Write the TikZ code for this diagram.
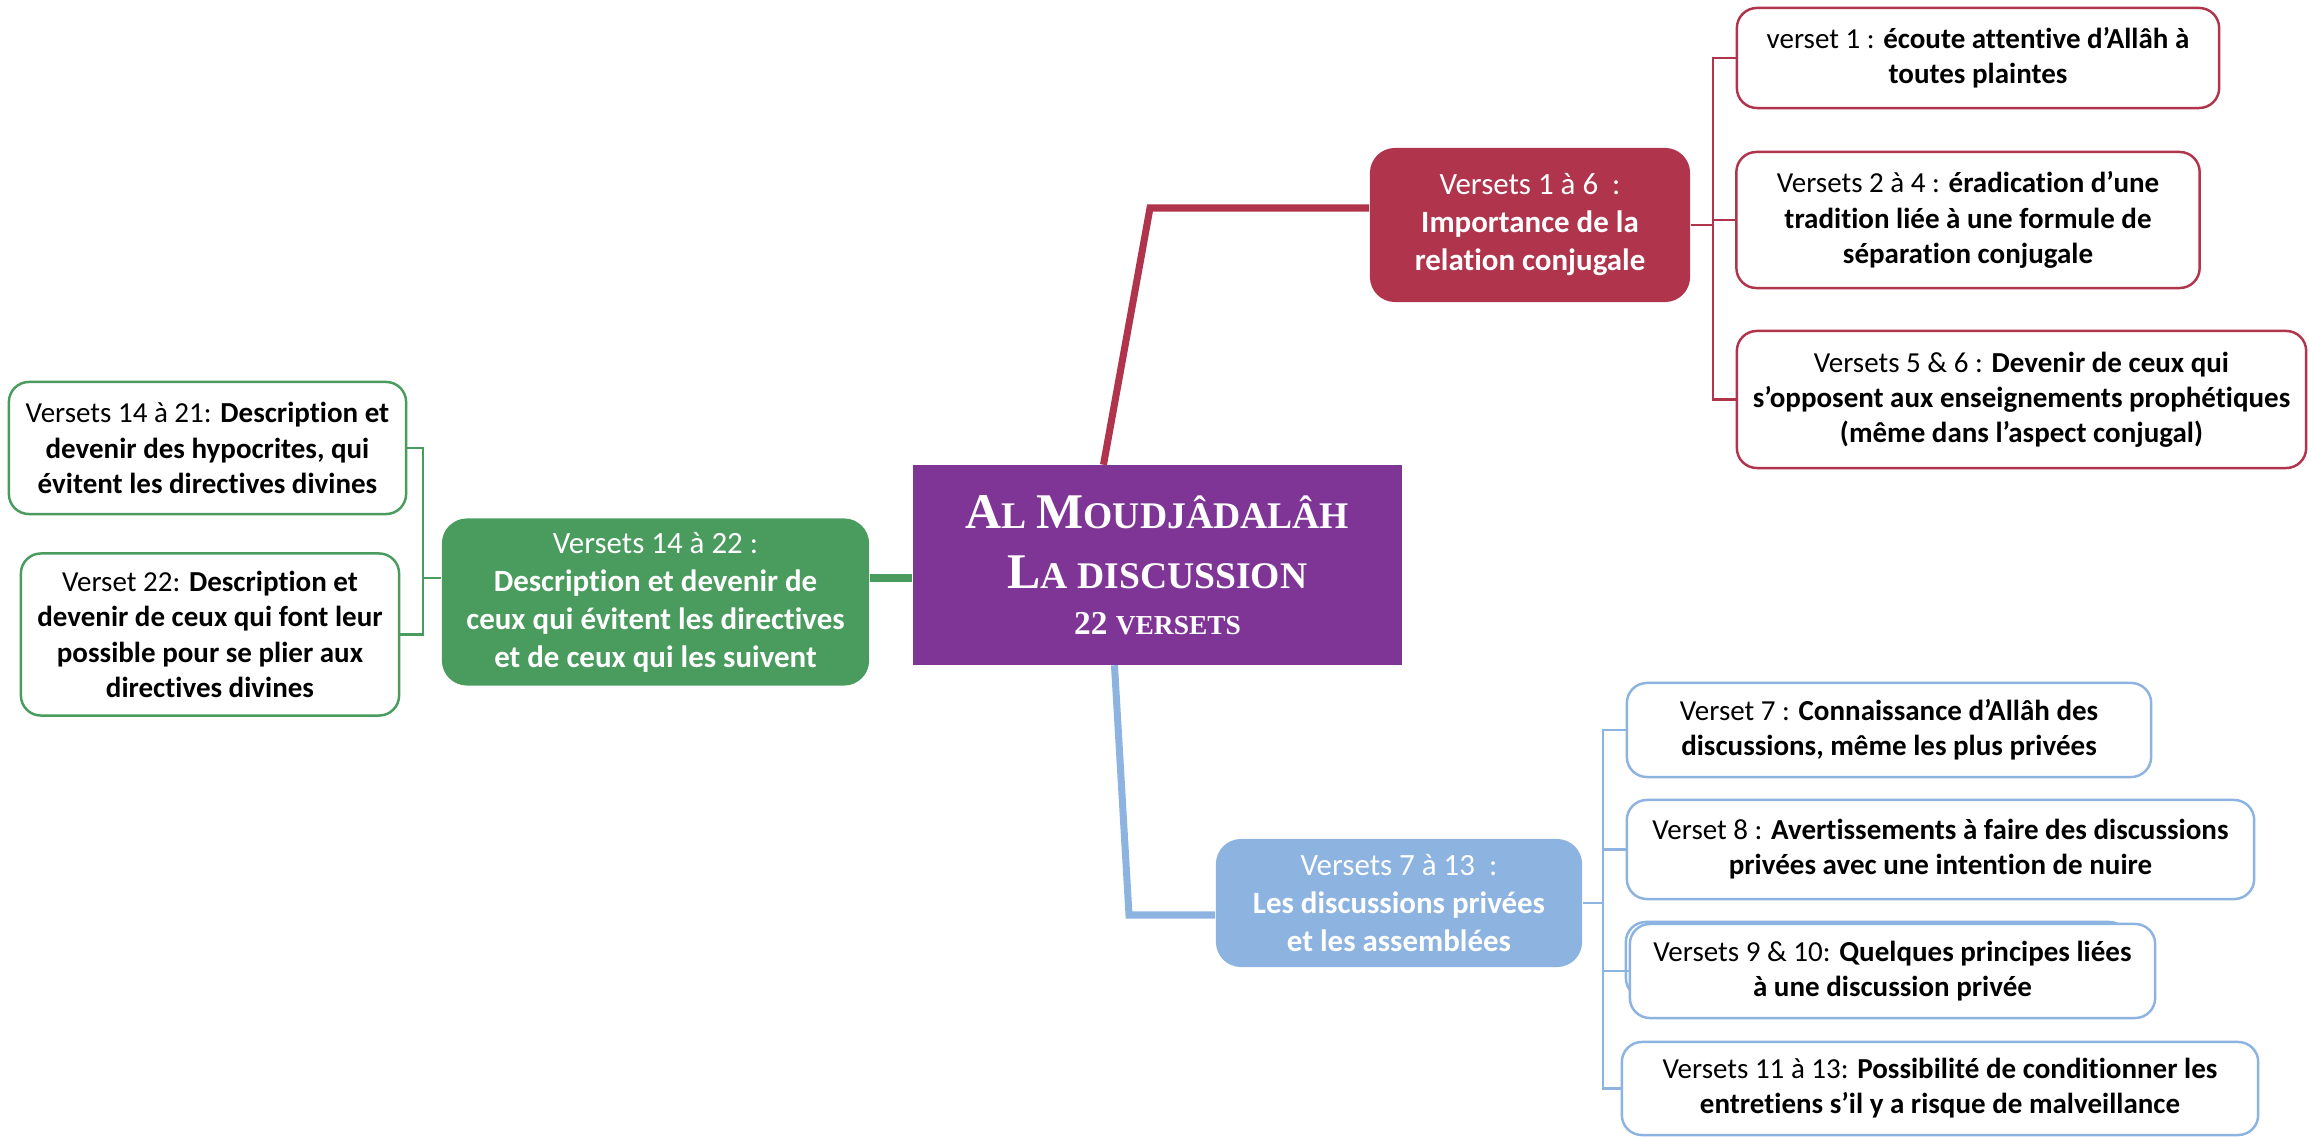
\documentclass[tikz,border=0pt]{standalone}
\usepackage{fontspec}
\setmainfont{Carlito}[Ligatures=NoCommon]
\newfontfamily\titlefont{Liberation Serif}
\usepackage{xcolor}
\usepackage{tikz}
\definecolor{redc}{HTML}{B0344B}
\definecolor{greenc}{HTML}{4A9B5E}
\definecolor{bluec}{HTML}{8DB3E1}
\definecolor{purplec}{HTML}{7F3595}
\newcommand{\capbig}{\fontsize{14.2}{17}\selectfont}
\newcommand{\capsmall}{\fontsize{10.7}{17}\selectfont}
\tikzset{
    box/.style = {align=center, inner sep=0pt, rounded corners=2.5mm, text=white,
        font=\fontsize{8.8}{10.8}\selectfont},
    red_box/.style = {box, fill=redc},
    green_box/.style = {box, fill=greenc},
    blue_box/.style = {box, fill=bluec},
    leaf/.style = {align=center, inner sep=0pt, rounded corners=2mm, fill=white, line width=0.7pt,
        font=\fontsize{8.25}{10}\selectfont},
    red_leaf/.style = {leaf, draw=redc},
    green_leaf/.style = {leaf, draw=greenc},
    blue_leaf/.style = {leaf, draw=bluec},
    red_link/.style = {draw=redc, line width=2pt},
    green_link/.style = {draw=greenc, line width=2pt},
    blue_link/.style = {draw=bluec, line width=2pt},
    red_twig/.style = {draw=redc, line width=0.6pt},
    green_twig/.style = {draw=greenc, line width=0.6pt},
    blue_twig/.style = {draw=bluec, line width=0.6pt}
}

\begin{document}
\begin{tikzpicture}[x=0.01cm, y=-0.01cm]
    \useasboundingbox (0,0) rectangle (2309,1137);

    % centre
    \node [fill=purplec, text=white, align=center, inner sep=0pt,
        minimum width=4.89cm, minimum height=1.99cm,
        font=\titlefont\bfseries\fontsize{14.2}{17}\selectfont]
        (centre) at (1157.5,565)
        {\capbig A\capsmall L \capbig M\capsmall OUDJÂDALÂH\\
         \capbig L\capsmall A DISCUSSION\\[-4pt]
         {\fontsize{9.5}{12}\selectfont 22 \fontsize{7.8}{12}\selectfont VERSETS}};

    % branches
    \node [red_box, minimum width=3.2cm, minimum height=1.54cm] (red) at (1530,225)
        {Versets 1 à 6~ :\\ \textbf{Importance de la}\\ \textbf{relation conjugale}};
    \node [blue_box, minimum width=3.66cm, minimum height=1.28cm] (blue) at (1399,903)
        {Versets 7 à 13~ :\\ \textbf{Les discussions privées}\\ \textbf{et les assemblées}};
    \node [green_box, minimum width=4.27cm, minimum height=1.67cm] (green) at (655.5,602)
        {Versets 14 à 22 :\\ \textbf{Description et devenir de}\\
         \textbf{ceux qui évitent les directives}\\ \textbf{et de ceux qui les suivent}};

    % red leaves
    \node [red_leaf, minimum width=4.82cm, minimum height=1.0cm] (r1) at (1978,58)
        {verset 1 : \textbf{écoute attentive d’Allâh à}\\ \textbf{toutes plaintes}};
    \node [red_leaf, minimum width=4.63cm, minimum height=1.36cm] (r2) at (1968,220)
        {Versets 2 à 4 : \textbf{éradication d’une}\\ \textbf{tradition liée à une formule de}\\
         \textbf{séparation conjugale}};
    \node [red_leaf, minimum width=5.69cm, minimum height=1.37cm] (r3) at (2021.5,399.5)
        {Versets 5 \& 6 : \textbf{Devenir de ceux qui}\\
         \textbf{s’opposent aux enseignements prophétiques}\\
         \textbf{(même dans l’aspect conjugal)}};

    % blue leaves
    \node [blue_leaf, minimum width=5.24cm, minimum height=0.94cm] (b1) at (1889,730)
        {Verset 7 : \textbf{Connaissance d’Allâh des}\\ \textbf{discussions, même les plus privées}};
    \node [blue_leaf, minimum width=6.27cm, minimum height=0.99cm] (b2) at (1940.5,849.5)
        {Verset 8 : \textbf{Avertissements à faire des discussions}\\
         \textbf{privées avec une intention de nuire}};
    \node [blue_leaf, minimum width=5.03cm, minimum height=0.76cm] (b3back) at (1877.5,960) {};
    \node [blue_leaf, minimum width=5.25cm, minimum height=0.94cm] (b3) at (1892.5,971)
        {Versets 9 \& 10: \textbf{Quelques principes liées}\\ \textbf{à une discussion privée}};
    \node [blue_leaf, minimum width=6.36cm, minimum height=0.93cm] (b4) at (1940,1088.5)
        {Versets 11 à 13: \textbf{Possibilité de conditionner les}\\
         \textbf{entretiens s’il y a risque de malveillance}};

    % green leaves
    \node [green_leaf, minimum width=3.97cm, minimum height=1.32cm] (g1) at (207.5,448)
        {Versets 14 à 21: \textbf{Description et}\\ \textbf{devenir des hypocrites, qui}\\
         \textbf{évitent les directives divines}};
    \node [green_leaf, minimum width=3.78cm, minimum height=1.62cm] (g2) at (210,634.5)
        {Verset 22: \textbf{Description et}\\ \textbf{devenir de ceux qui font leur}\\
         \textbf{possible pour se plier aux}\\ \textbf{directives divines}};

    % thick links from the centre
    \coordinate (redbend) at (1150,208);
    \coordinate (bluebend) at (1129,915);
    \draw [red_link] ([xshift=-0.54cm]centre.north) -- (redbend) -- (redbend -| red.west);
    \draw [blue_link] ([xshift=-0.43cm]centre.south) -- (bluebend) -- (bluebend -| blue.west);
    \draw [green_link] ([yshift=-0.13cm]centre.west) -- ([yshift=-0.13cm]centre.west -| green.east);

    % thin brackets
    \coordinate (redspine) at (1713,0);
    \coordinate (bluespine) at (1603,0);
    \coordinate (greenspine) at (423,0);
    \draw [red_twig] (r1.west) -| (redspine |- r3.west) -- (r3.west);
    \draw [red_twig] (red.east) -- (red.east -| redspine);
    \draw [red_twig] (redspine |- r2.west) -- (r2.west);
    \draw [blue_twig] (b1.west) -| (bluespine |- b4.west) -- (b4.west);
    \draw [blue_twig] (blue.east) -- (blue.east -| bluespine);
    \draw [blue_twig] (bluespine |- b2.west) -- (b2.west);
    \draw [blue_twig] (bluespine |- b3.west) -- (b3.west);
    \draw [green_twig] (g1.east) -| (greenspine |- g2.east) -- (g2.east);
    \draw [green_twig] ([yshift=0.24cm]green.west) -- ([yshift=0.24cm]green.west -| greenspine);
\end{tikzpicture}
\end{document}
